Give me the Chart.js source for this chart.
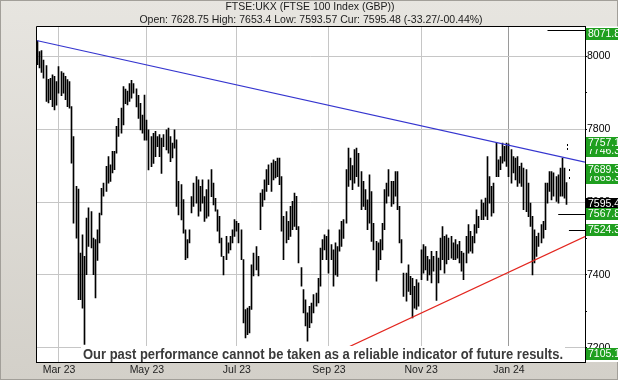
<!DOCTYPE html>
<html>
<head>
<meta charset="utf-8">
<script src="https://cdn.jsdelivr.net/npm/chart.js@4"></script>
<style>
  html, body { margin: 0; padding: 0; background: #dcd9d3; }
  #wrap { width: 618px; height: 380px; }
</style>
</head>
<body>
<div id="wrap"><canvas id="chart" width="618" height="380"></canvas></div>
<script>
// ---- DATA ----
// trading days per month (Feb 24 ends with the days still to come)
const dayFeb23 = [15, 16, 17, 20, 21, 22, 23, 24, 27, 28];
const dayMar23 = [1, 2, 3, 6, 7, 8, 9, 10, 13, 14, 15, 16, 17, 20, 21, 22, 23, 24, 27, 28, 29, 30, 31];
const dayApr23 = [3, 4, 5, 6, 11, 12, 13, 14, 17, 18, 19, 20, 21, 24, 25, 26, 27, 28];
const dayMay23 = [2, 3, 4, 5, 9, 10, 11, 12, 15, 16, 17, 18, 19, 22, 23, 24, 25, 26, 30, 31];
const dayJun23 = [1, 2, 5, 6, 7, 8, 9, 12, 13, 14, 15, 16, 19, 20, 21, 22, 23, 26, 27, 28, 29, 30];
const dayJul23 = [3, 4, 5, 6, 7, 10, 11, 12, 13, 14, 17, 18, 19, 20, 21, 24, 25, 26, 27, 28, 31];
const dayAug23 = [1, 2, 3, 4, 7, 8, 9, 10, 11, 14, 15, 16, 17, 18, 21, 22, 23, 24, 25, 29, 30, 31];
const daySep23 = [1, 4, 5, 6, 7, 8, 11, 12, 13, 14, 15, 18, 19, 20, 21, 22, 25, 26, 27, 28, 29];
const dayOct23 = [2, 3, 4, 5, 6, 9, 10, 11, 12, 13, 16, 17, 18, 19, 20, 23, 24, 25, 26, 27, 30, 31];
const dayNov23 = [1, 2, 3, 6, 7, 8, 9, 10, 13, 14, 15, 16, 17, 20, 21, 22, 23, 24, 27, 28, 29, 30];
const dayDec23 = [1, 4, 5, 6, 7, 8, 11, 12, 13, 14, 15, 18, 19, 20, 21, 22, 27, 28, 29];
const dayJan24 = [2, 3, 4, 5, 8, 9, 10, 11, 12, 15, 16, 17, 18, 19, 22, 23, 24, 25, 26, 29, 30, 31];
const dayFeb24 = [1, 2, 5, 6, 7, 8, 9, 12, 13, 14, 15, 16, 19, 20];

// daily high / low, one line per month
const highs = [
  8043, 8013, 8016, 7990, 7975, 7937, 7940, 7949, 7945, 7931,
  7972, 7958, 7954, 7945, 7936, 7931, 7862, 7780, 7643, 7636, 7460, 7510, 7451, 7556, 7584, 7574, 7501, 7497, 7524, 7570, 7638, 7652, 7698,
  7725, 7702, 7739, 7739, 7808, 7830, 7858, 7917, 7910, 7905, 7925, 7934, 7925, 7911, 7893, 7871, 7839, 7894,
  7825, 7798, 7780, 7789, 7794, 7780, 7785, 7776, 7785, 7798, 7803, 7780, 7762, 7798, 7771, 7657, 7648, 7607, 7524, 7497,
  7524, 7615, 7652, 7670, 7661, 7643, 7661, 7615, 7634, 7661, 7689, 7652, 7610, 7579, 7561, 7501, 7451, 7506, 7488, 7506, 7524, 7552,
  7547, 7542, 7524, 7442, 7305, 7309, 7314, 7428, 7460, 7478, 7451, 7625, 7634, 7661, 7689, 7702, 7707, 7716, 7712, 7721, 7721,
  7670, 7561, 7574, 7547, 7588, 7602, 7625, 7616, 7533, 7420, 7360, 7332, 7296, 7314, 7323, 7346, 7350, 7391, 7474, 7497, 7510, 7506,
  7524, 7483, 7469, 7488, 7478, 7524, 7547, 7552, 7689, 7748, 7721, 7700, 7744, 7748, 7734, 7684, 7657, 7634, 7606, 7675, 7629,
  7542, 7492, 7488, 7497, 7542, 7634, 7652, 7689, 7657, 7657, 7684, 7684, 7588, 7497, 7405, 7405, 7428, 7396, 7391, 7369, 7387, 7378,
  7469, 7483, 7478, 7451, 7442, 7465, 7451, 7465, 7446, 7501, 7533, 7506, 7510, 7501, 7506, 7488, 7497, 7483, 7492, 7465, 7460, 7506,
  7538, 7520, 7506, 7538, 7579, 7561, 7606, 7597, 7611, 7725, 7670, 7643, 7652, 7762, 7716, 7725, 7762, 7753, 7762,
  7760, 7744, 7725, 7721, 7725, 7698, 7707, 7693, 7689, 7652, 7597, 7561, 7524, 7506, 7515, 7538, 7547, 7652, 7652, 7684, 7684, 7680,
  7670, 7675, 7693, 7721, 7693, 7653.4
];
const lows = [
  7977, 7968, 7956, 7940, 7876, 7872, 7881, 7862, 7853, 7866,
  7899, 7892, 7899, 7881, 7862, 7858, 7707, 7542, 7501, 7332, 7332, 7309, 7209, 7401, 7478, 7474, 7401, 7337, 7440, 7488, 7565, 7616, 7629,
  7652, 7657, 7680, 7689, 7734, 7780, 7789, 7812, 7870, 7867, 7876, 7885, 7899, 7861, 7830, 7798, 7789, 7770,
  7770, 7688, 7697, 7706, 7725, 7752, 7725, 7679, 7752, 7743, 7734, 7711, 7721, 7748, 7588, 7565, 7551, 7515, 7442, 7447,
  7488, 7570, 7588, 7597, 7561, 7575, 7597, 7547, 7556, 7561, 7615, 7592, 7575, 7520, 7488, 7451, 7400, 7442, 7460, 7469, 7488, 7506,
  7520, 7488, 7442, 7268, 7227, 7236, 7241, 7305, 7397, 7414, 7397, 7524, 7588, 7606, 7629, 7648, 7629, 7661, 7666, 7670, 7648,
  7520, 7442, 7488, 7497, 7506, 7524, 7533, 7524, 7433, 7369, 7296, 7260, 7218, 7255, 7268, 7296, 7314, 7323, 7369, 7442, 7469, 7442,
  7405, 7442, 7369, 7400, 7396, 7465, 7478, 7500, 7542, 7643, 7661, 7634, 7652, 7670, 7643, 7579, 7588, 7579, 7524, 7542, 7492,
  7469, 7383, 7414, 7442, 7469, 7524, 7597, 7616, 7588, 7595, 7616, 7579, 7488, 7433, 7341, 7328, 7355, 7346, 7282, 7309, 7305, 7314,
  7387, 7405, 7414, 7385, 7400, 7378, 7410, 7330, 7378, 7414, 7442, 7405, 7430, 7442, 7446, 7442, 7442, 7446, 7433, 7410, 7387, 7433,
  7460, 7465, 7460, 7488, 7515, 7530, 7552, 7552, 7561, 7552, 7597, 7561, 7570, 7670, 7670, 7689, 7707, 7712, 7698,
  7670, 7652, 7680, 7661, 7643, 7652, 7643, 7579, 7574, 7560, 7533, 7400, 7433, 7451, 7478, 7488, 7501, 7524, 7597, 7629, 7606, 7616,
  7602, 7597, 7616, 7616, 7611, 7593.57
];

const lastOpen = 7628.75;
const lastClose = 7595.48;
const lastChange = '-33.27';
const lastChangePct = '-00.44';

const tickDates = ['2023-03-01', '2023-05-02', '2023-07-03', '2023-09-01', '2023-11-01', '2024-01-02'];
const tickLabels = ['Mar 23', 'May 23', 'Jul 23', 'Sep 23', 'Nov 23', 'Jan 24'];
const yTicks = [7200, 7300, 7400, 7500, 7600, 7700, 7800, 7900, 8000];

// trendlines, two anchors each
const blueLine = [['2023-02-15', 8043], ['2024-02-08', 7721]];
const redLine = [['2023-09-13', 7199], ['2024-02-08', 7482]];

// right-hand price flags, drawn in this order
const levelValues = [8071.8, 7746.3, 7757.1, 7665.3, 7689.3, 7595.48, 7567.8, 7524.3, 7105.1];
const levelTexts = ['8071.8', '7746.3', '7757.1', '7665.3', '7689.3', '7595.4', '7567.8', '7524.3', '7105.1'];

// target levels marked with a short line from a date
const targetValues = [8071.8, 7567.8, 7524.3];
const targetFrom = ['2024-01-26', '2024-02-02', '2024-02-09'];
const dotValues = [7757.1, 7746.3, 7689.3, 7665.3];
const dotDates = ['2024-02-08', '2024-02-08', '2024-02-09', '2024-02-09'];

const disclaimer = 'Our past performance cannot be taken as a reliable indicator of future results.';

// ---- BUILD ----
const monthDays = [
  ['2023-02', dayFeb23], ['2023-03', dayMar23], ['2023-04', dayApr23], ['2023-05', dayMay23],
  ['2023-06', dayJun23], ['2023-07', dayJul23], ['2023-08', dayAug23], ['2023-09', daySep23],
  ['2023-10', dayOct23], ['2023-11', dayNov23], ['2023-12', dayDec23], ['2024-01', dayJan24], ['2024-02', dayFeb24]
];
const labels = [];
monthDays.forEach(([m, days]) => days.forEach(d => labels.push(`${m}-${String(d).padStart(2, '0')}`)));
const tickIdx = tickDates.map(d => labels.indexOf(d));
const bars = labels.map((_, i) => i < highs.length ? [lows[i], highs[i]] : null);

const FONT = '"Liberation Sans", Arial, sans-serif';

const crispBars = {
  id: 'crispBars',
  beforeDatasetsDraw(chart) {
    chart.getDatasetMeta(0).data.forEach(b => {
      if (isFinite(b.x)) b.x = Math.round(b.x - 0.5) + 0.5;
    });
  }
};

function drawTrend(chart, pts, color) {
  const {ctx, chartArea: a, scales: {x, y}} = chart;
  const [p, q] = pts.map(([d, v]) => [x.getPixelForValue(labels.indexOf(d)), y.getPixelForValue(v)]);
  const k = (q[1] - p[1]) / (q[0] - p[0]);
  ctx.save();
  ctx.beginPath();
  ctx.rect(a.left, a.top, a.right - a.left, a.bottom - a.top);
  ctx.clip();
  ctx.strokeStyle = color;
  ctx.lineWidth = 1.2;
  ctx.beginPath();
  ctx.moveTo(a.left, p[1] + k * (a.left - p[0]));
  ctx.lineTo(a.right, p[1] + k * (a.right - p[0]));
  ctx.stroke();
  ctx.restore();
}

const overlay = {
  id: 'overlay',
  beforeDraw(chart) {
    const {ctx, chartArea: a, width, height} = chart;
    ctx.save();
    const g = ctx.createLinearGradient(0, 0, 0, height);
    g.addColorStop(0, '#e7e5e0');
    g.addColorStop(1, '#d3d0c9');
    ctx.fillStyle = g;
    ctx.fillRect(0, 0, width, height);
    ctx.strokeStyle = '#a29f99';
    ctx.strokeRect(0.5, 0.5, width - 1, height - 1);
    ctx.fillStyle = '#fff';
    ctx.fillRect(a.left, a.top, width - a.left, a.bottom - a.top);
    ctx.restore();
  },
  afterDatasetsDraw(chart) {
    const {ctx, chartArea: a, scales: {x, y}} = chart;
    drawTrend(chart, blueLine, '#3535cf');
    drawTrend(chart, redLine, '#e3261f');

    ctx.save();
    ctx.strokeStyle = '#000';
    ctx.lineWidth = 1;
    targetValues.forEach((v, i) => {
      const py = Math.round(y.getPixelForValue(v)) + 0.5;
      ctx.beginPath();
      ctx.moveTo(x.getPixelForValue(labels.indexOf(targetFrom[i])), py);
      ctx.lineTo(a.right, py);
      ctx.stroke();
    });
    ctx.fillStyle = '#000';
    dotValues.forEach((v, i) => {
      const px = Math.round(x.getPixelForValue(labels.indexOf(dotDates[i])));
      const py = Math.round(y.getPixelForValue(v));
      ctx.fillRect(px, py - 1, 1, 2);
    });

    // disclaimer on a white strip
    ctx.font = `bold 15px "Liberation Sans Narrow", ${FONT}`;
    const w = Math.min(ctx.measureText(disclaimer).width, 480);
    ctx.fillStyle = '#fff';
    ctx.fillRect(323 - w / 2 - 2, 346, w + 4, a.bottom - 346);
    ctx.fillStyle = '#3a3a3a';
    ctx.textAlign = 'center';
    ctx.textBaseline = 'middle';
    ctx.fillText(disclaimer, 323, 354.5, 480);
    ctx.restore();
  },
  afterDraw(chart) {
    const {ctx, chartArea: a, scales: {y}, width} = chart;
    ctx.save();
    // left and top frame
    ctx.strokeStyle = '#000';
    ctx.lineWidth = 1;
    ctx.beginPath();
    ctx.moveTo(Math.round(a.left) - 0.5, a.bottom);
    ctx.lineTo(Math.round(a.left) - 0.5, Math.round(a.top) - 0.5);
    ctx.lineTo(a.right, Math.round(a.top) - 0.5);
    ctx.stroke();

    // price flags, pushed apart where they collide
    const items = levelValues.map((v, i) => ({i, y: y.getPixelForValue(v)}));
    const sorted = [...items].sort((p, q) => p.y - q.y);
    for (let pass = 0; pass < 6; pass++) {
      for (let k = 1; k < sorted.length; k++) {
        const gap = sorted[k].y - sorted[k - 1].y;
        if (gap < 8) {
          sorted[k - 1].y -= (8 - gap) / 2;
          sorted[k].y += (8 - gap) / 2;
        }
      }
    }
    const x0 = Math.round(a.right) + 1;
    ctx.font = `10.5px ${FONT}`;
    ctx.textAlign = 'left';
    ctx.textBaseline = 'middle';
    items.forEach(it => {
      const cy = Math.max(a.top + 7, Math.min(a.bottom - 8, it.y));
      const current = levelValues[it.i] === lastClose;
      ctx.fillStyle = current ? '#000' : '#1f9f1f';
      ctx.fillRect(x0, Math.round(cy - 6), width - x0, 12);
      ctx.fillStyle = '#fff';
      ctx.fillText(levelTexts[it.i], x0 + 2, Math.round(cy) + 0.5);
    });

    // header
    ctx.fillStyle = '#1c1c1c';
    ctx.textAlign = 'center';
    ctx.fillText('FTSE:UKX (FTSE 100 Index (GBP))', 310, 7.5);
    ctx.fillText(`Open: ${lastOpen} High: ${highs[highs.length - 1]} Low: ${lows[lows.length - 1]} Cur: ${lastClose} (${lastChange}/${lastChangePct}%)`, 311, 20);
    ctx.restore();
  }
};

new Chart(document.getElementById('chart'), {
  type: 'bar',
  data: {
    labels,
    datasets: [{data: bars, backgroundColor: '#000', borderWidth: 0, barThickness: 1}]
  },
  options: {
    responsive: false,
    animation: false,
    layout: {padding: {left: 36.5, top: 26.5, right: 0, bottom: 0}},
    plugins: {legend: {display: false}, tooltip: {enabled: false}},
    scales: {
      x: {
        grid: {
          offset: false,
          drawTicks: false,
          color: c => c.index === tickIdx[5] ? '#9a9a9a' : tickIdx.includes(c.index) ? '#c6c6c6' : 'transparent'
        },
        border: {color: '#000'},
        ticks: {
          autoSkip: false, maxRotation: 0, minRotation: 0, padding: 2,
          color: '#222', font: {family: FONT, size: 10.5},
          callback: (v, i) => {
            const k = tickIdx.indexOf(i);
            return k >= 0 ? tickLabels[k] : '';
          }
        },
        afterFit: s => { s.height = 18; }
      },
      y: {
        position: 'right',
        min: 7161,
        max: 8082,
        afterBuildTicks: s => { s.ticks = yTicks.map(v => ({value: v})); },
        grid: {
          color: c => c.tick && c.tick.value % 200 === 0 ? '#c6c6c6' : 'transparent',
          tickColor: '#000',
          tickLength: 2
        },
        border: {color: '#000'},
        ticks: {
          padding: 0, color: '#000', font: {family: FONT, size: 10.5},
          callback: v => v % 200 === 0 ? String(v) : ''
        },
        afterFit: s => { s.width = 33; }
      }
    }
  },
  plugins: [crispBars, overlay]
});
</script>
</body>
</html>
